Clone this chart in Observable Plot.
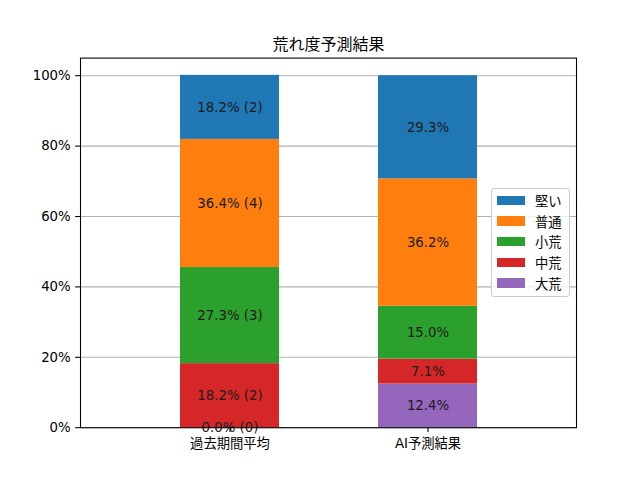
<!DOCTYPE html>
<html>
<head>
<meta charset="utf-8">
<script src="https://cdn.jsdelivr.net/npm/d3@7"></script>
<script src="https://cdn.jsdelivr.net/npm/@observablehq/plot@0.6"></script>
<style>
  html, body { margin: 0; padding: 0; background: #fff; }
  #wrap { position: relative; width: 640px; height: 480px; font-family: "DejaVu Sans", "Noto Sans CJK JP", sans-serif; }
  #legend { position: absolute; left: 491px; top: 188px; width: 79px; height: 109px; box-sizing: border-box;
    border: 1px solid #cccccc; border-radius: 3px; background: rgba(255,255,255,0.8); padding: 1px 0 0 5px; }
  .row { height: 20.7px; display: flex; align-items: center; font-size: 13.3px; color: #000; font-family: "Noto Sans CJK JP", sans-serif; }
  .sw { width: 28px; height: 9.5px; margin-right: 10px; flex: none; }
</style>
</head>
<body>
<div id="wrap"></div>
<script>
const title = "荒れ度予測結果";
const categories = ["過去期間平均", "AI予測結果"];
// stacked bottom to top
const series = ["大荒", "中荒", "小荒", "普通", "堅い"];
const colors = ["#9467bd", "#d62728", "#2ca02c", "#ff7f0e", "#1f77b4"];
const pastPercent = [0.0, 18.2, 27.3, 36.4, 18.2];
const pastCount = [0, 2, 3, 4, 2];
const aiPercent = [12.4, 7.1, 15.0, 36.2, 29.3];
const yTicks = [0, 20, 40, 60, 80, 100];

const data = [];
series.forEach((s, i) => {
  data.push({cat: categories[0], series: s, value: pastPercent[i],
    label: `${pastPercent[i].toFixed(1)}% (${pastCount[i]})`});
});
series.forEach((s, i) => {
  data.push({cat: categories[1], series: s, value: aiPercent[i],
    label: `${aiPercent[i].toFixed(1)}%`});
});

const font = "\"DejaVu Sans\", \"Noto Sans CJK JP\", sans-serif";

const chart = Plot.plot({
  width: 640,
  height: 480,
  marginLeft: 80,
  marginRight: 64,
  marginTop: 57.6,
  marginBottom: 52.8,
  style: {fontFamily: font, fontSize: "13.3px", color: "#000", background: "#fff"},
  x: {domain: categories, paddingInner: 0.5, paddingOuter: 0.5, label: null},
  y: {domain: [0, 105], label: null},
  color: {domain: series, range: colors},
  marks: [
    Plot.gridY(yTicks, {stroke: "#b0b0b0", strokeOpacity: 1, strokeWidth: 1.07}),
    Plot.barY(data, Plot.stackY({x: "cat", y: "value", z: "series", fill: "series", order: series})),
    Plot.text(data, Plot.stackY({x: "cat", y: "value", z: "series", text: "label", order: series,
      fill: "#1a1a1a", fontSize: 13.3})),
    Plot.axisY({ticks: yTicks, tickFormat: d => d + "%", tickSize: 4.9, tickPadding: 4.9,
      strokeWidth: 1.07, fontSize: 13.3, label: null}),
    Plot.axisX({tickSize: 4.9, tickPadding: 6, strokeWidth: 1.07, fontSize: 13.3, label: null}),
    Plot.frame({stroke: "#000", strokeWidth: 1.07}),
    Plot.text([title], {frameAnchor: "top", dy: -8, lineAnchor: "bottom", fontSize: 16, fill: "#000"})
  ]
});

const wrap = document.getElementById("wrap");
wrap.appendChild(chart);

const legend = document.createElement("div");
legend.id = "legend";
const legendOrder = series.slice().reverse();
legendOrder.forEach(s => {
  const row = document.createElement("div");
  row.className = "row";
  const sw = document.createElement("div");
  sw.className = "sw";
  sw.style.background = colors[series.indexOf(s)];
  const t = document.createElement("span");
  t.textContent = s;
  row.appendChild(sw);
  row.appendChild(t);
  legend.appendChild(row);
});
wrap.appendChild(legend);
</script>
</body>
</html>
